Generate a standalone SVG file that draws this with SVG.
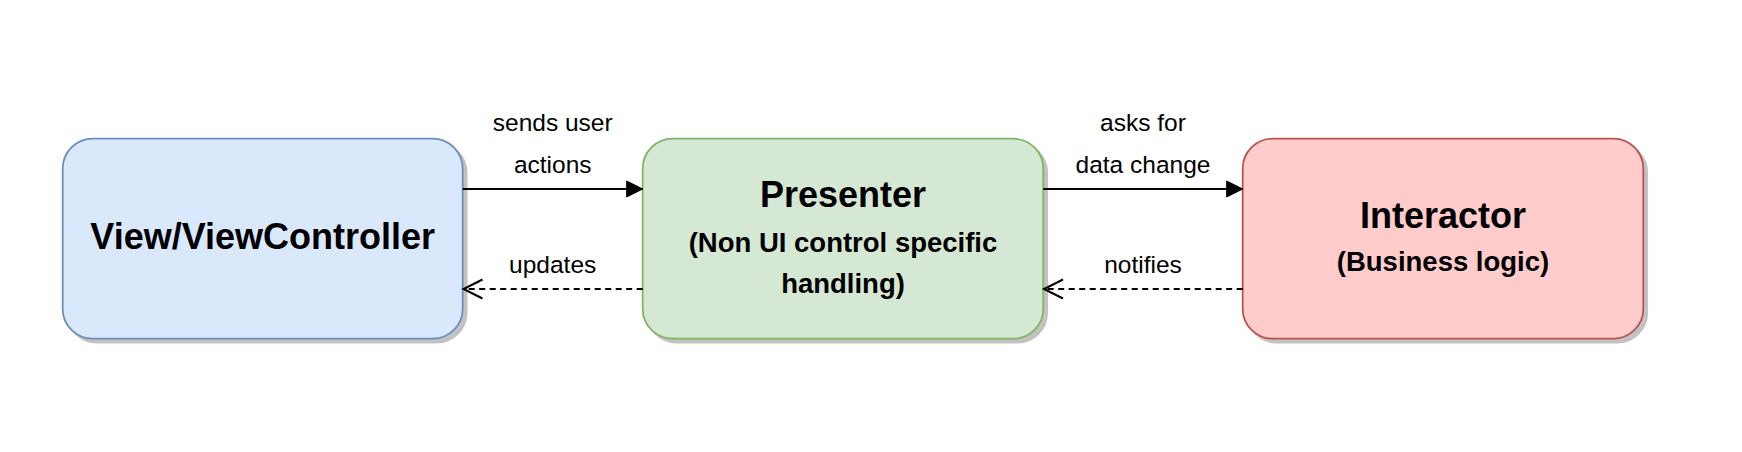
<svg xmlns="http://www.w3.org/2000/svg" width="1742" height="452" viewBox="0 0 1742 452">
  <defs>
    <marker id="block" markerUnits="userSpaceOnUse" markerWidth="18" markerHeight="18" viewBox="0 0 18 18" refX="17" refY="9" orient="auto">
      <path d="M1,1 L17,9 L1,17 Z" fill="#000" stroke="#000" stroke-width="1"/>
    </marker>
    <marker id="open" markerUnits="userSpaceOnUse" markerWidth="24" markerHeight="24" viewBox="0 0 24 24" refX="21" refY="12" orient="auto">
      <path d="M2,2.5 L21,12 L2,21.5" fill="none" stroke="#000" stroke-width="2"/>
    </marker>
  </defs>
  <style>
    .shadow { fill: #c2c2c2; stroke: #c2c2c2; stroke-width: 1.5; }
    .box { stroke-width: 1.8; }
    .blue { fill: #dae8fc; stroke: #6c8ebf; }
    .green { fill: #d5e8d4; stroke: #82b366; }
    .red { fill: #ffcccc; stroke: #b85450; }
    .title { font-family: "Liberation Sans", Arial, sans-serif; font-weight: bold; font-size: 36px; text-anchor: middle; fill: #000; }
    .sub { font-family: "Liberation Sans", Arial, sans-serif; font-weight: bold; font-size: 27.5px; text-anchor: middle; fill: #000; }
    .lbl { font-family: "Liberation Sans", Arial, sans-serif; font-size: 24.5px; text-anchor: middle; fill: #000; }
    .edge { fill: none; stroke: #000; stroke-width: 2; }
    .dashed { stroke-dasharray: 6 4.5; }
  </style>
  <rect width="1742" height="452" fill="#ffffff"/>

  <g id="view">
    <rect class="shadow" x="66.7" y="142.7" width="400" height="200" rx="30" ry="30"/>
    <rect class="box blue" x="62.7" y="138.7" width="400" height="200" rx="30" ry="30"/>
    <text class="title" x="262.7" y="249">View/ViewController</text>
  </g>

  <g id="presenter">
    <rect class="shadow" x="646.7" y="142.7" width="400.6" height="200" rx="30" ry="30"/>
    <rect class="box green" x="642.7" y="138.7" width="400.6" height="200" rx="30" ry="30"/>
    <text class="title" x="843" y="207">Presenter</text>
    <text class="sub" x="843" y="251.5">(Non UI control specific</text>
    <text class="sub" x="843" y="293">handling)</text>
  </g>

  <g id="interactor">
    <rect class="shadow" x="1246.7" y="142.7" width="400.6" height="200" rx="30" ry="30"/>
    <rect class="box red" x="1242.7" y="138.7" width="400.6" height="200" rx="30" ry="30"/>
    <text class="title" x="1443" y="228">Interactor</text>
    <text class="sub" x="1443" y="271">(Business logic)</text>
  </g>

  <g id="connectors">
    <path class="edge" d="M462.7,189 L642.7,189" marker-end="url(#block)"/>
    <path class="edge dashed" d="M642.7,289 L463.5,289" marker-end="url(#open)"/>
    <path class="edge" d="M1043.3,189 L1242.7,189" marker-end="url(#block)"/>
    <path class="edge dashed" d="M1242.7,289 L1044,289" marker-end="url(#open)"/>
    <text class="lbl" x="552.7" y="130.7">sends user</text>
    <text class="lbl" x="552.7" y="172.7">actions</text>
    <text class="lbl" x="552.7" y="273">updates</text>
    <text class="lbl" x="1143" y="130.7">asks for</text>
    <text class="lbl" x="1143" y="172.7">data change</text>
    <text class="lbl" x="1143" y="273">notifies</text>
  </g>
</svg>
